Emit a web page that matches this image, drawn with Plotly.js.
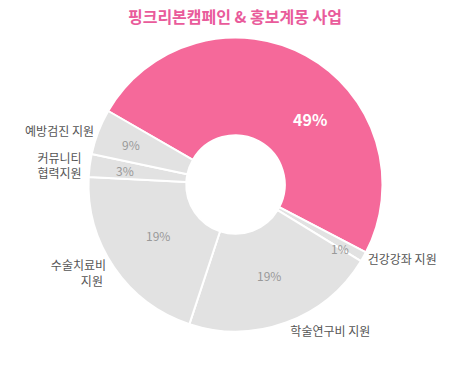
<!DOCTYPE html>
<html><head><meta charset="utf-8">
<script src="https://cdn.plot.ly/plotly-3.0.1.min.js"></script>
<style>html,body{margin:0;padding:0;background:#fff;}</style>
</head><body>
<div id="chart" style="width:470px;height:375px;"></div>
<script>
const categories = ['홍보계몽 사업', '건강강좌 지원', '학술연구비 지원', '수술치료비 지원', '커뮤니티 협력지원', '예방검진 지원'];
const outsideLabels = ['', '건강강좌 지원', '학술연구비 지원', '수술치료비<br>\u00A0\u00A0\u00A0\u00A0\u00A0\u00A0\u00A0\u00A0\u00A0\u00A0지원', '커뮤니티<br>협력지원', '예방검진 지원'];
const values = [49.2, 1.1, 21.3, 20.7, 2.5, 5];
const percentLabels = ['49%', '1%', '19%', '19%', '3%', '9%'];

// styling for the percentage labels (radial position as a fraction of the radius, angular nudge)
const pctRadius = [0.672, 0.832, 0.66, 0.633, 0.76, 0.762];
const pctAngleShift = [20, 2, 0, 1, 0, 0];

const pink = '#F5699A', gray = '#E2E2E2';
const colors = categories.map((c, i) => i === 0 ? pink : gray);

const W = 470, H = 375, cx = 235.5, cy = 184.5, R = 147, rotation = -60;
const domain = {x: [(cx - R) / W, (cx + R) / W], y: [1 - (cy + R) / H, 1 - (cy - R) / H]};
const font = '"Noto Sans CJK KR", "Noto Sans", sans-serif';

const main = {
  type: 'pie', values: values, labels: categories, sort: false, direction: 'clockwise',
  rotation: rotation, hole: 0.335, domain: domain,
  marker: {colors: colors, line: {color: '#ffffff', width: 2}},
  textinfo: 'none', hoverinfo: 'none', showlegend: false
};
const outer = {
  type: 'pie', values: values, labels: categories, sort: false, direction: 'clockwise',
  rotation: rotation, hole: 0.335, domain: domain,
  marker: {colors: categories.map(() => 'rgba(0,0,0,0)'), line: {width: 0}},
  text: outsideLabels, textinfo: 'text', textposition: 'outside',
  textfont: {family: font, color: '#555555', size: 12},
  hoverinfo: 'none', showlegend: false, automargin: false
};

// percentage labels placed at each slice's mid angle, derived from the values
const total = values.reduce((a, b) => a + b, 0);
let cum = 0;
const annotations = values.map((v, i) => {
  const mid = (rotation + 360 * (cum + v / 2) / total + pctAngleShift[i]) * Math.PI / 180;
  cum += v;
  const px = cx + pctRadius[i] * R * Math.sin(mid);
  const py = cy - pctRadius[i] * R * Math.cos(mid);
  return {
    text: percentLabels[i], x: px / W, y: 1 - py / H, xref: 'paper', yref: 'paper',
    xanchor: 'center', yanchor: 'middle', showarrow: false,
    font: {family: font, size: i === 0 ? 16 : 12, color: i === 0 ? '#ffffff' : '#999999', weight: i === 0 ? 700 : 400}
  };
});

Plotly.newPlot('chart', [main, outer], {
  width: W, height: H, margin: {l: 0, r: 0, t: 0, b: 0},
  paper_bgcolor: '#fff',
  annotations: annotations,
  title: {text: '핑크리본캠페인 &amp; 홍보계몽 사업', x: 0.5, xanchor: 'center', y: 1 - 17 / H, yref: 'container', yanchor: 'middle',
    font: {family: font, size: 16, color: '#E95B9B', weight: 700}}
}, {staticPlot: true});
</script>
</body></html>
